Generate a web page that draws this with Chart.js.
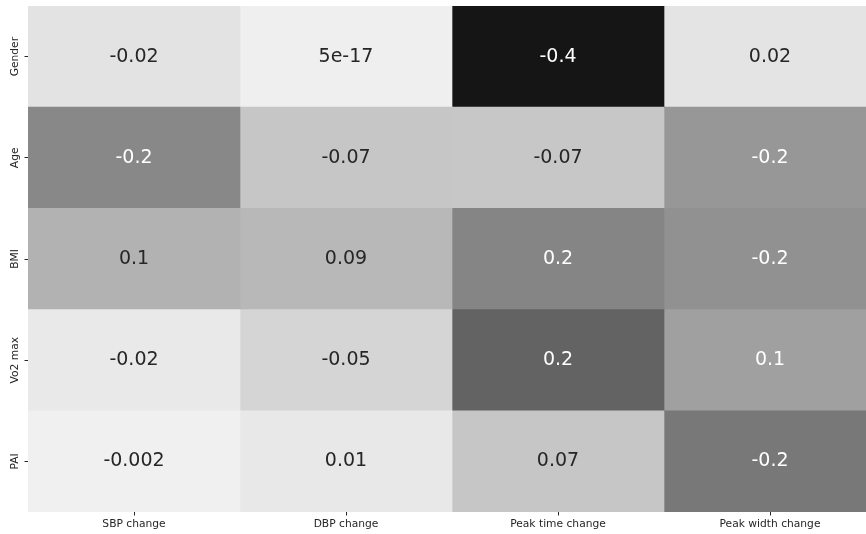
<!DOCTYPE html>
<html>
<head>
<meta charset="utf-8">
<script src="https://cdn.jsdelivr.net/npm/chart.js@4"></script>
<style>
  html, body { margin: 0; padding: 0; background: #fff; }
  #wrap { width: 866px; height: 534px; }
</style>
</head>
<body>
<div id="wrap"><canvas id="heat"></canvas></div>
<script>
const rowLabels = ['Gender', 'Age', 'BMI', 'Vo2 max', 'PAI'];
const colLabels = ['SBP change', 'DBP change', 'Peak time change', 'Peak width change'];

// correlation values, one array per row
const gender = [-0.02, 5e-17, -0.4, 0.02];
const age = [-0.2, -0.07, -0.07, -0.2];
const bmi = [0.1, 0.09, 0.2, -0.2];
const vo2max = [-0.02, -0.05, 0.2, 0.1];
const pai = [-0.002, 0.01, 0.07, -0.2];
const values = [gender, age, bmi, vo2max, pai];

// grey level of every cell (0 = black, 255 = white)
const cellGray = [
  [227, 239, 21, 228],
  [136, 198, 199, 151],
  [178, 184, 133, 145],
  [233, 213, 99, 160],
  [240, 232, 198, 120],
];

const gray = g => `rgb(${g},${g},${g})`;

const datasets = colLabels.map((name, c) => ({
  label: name,
  data: rowLabels.map(() => [c - 0.5, c + 0.5]),
  backgroundColor: cellGray.map(row => gray(row[c])),
  borderWidth: 0,
  barPercentage: 1,
  categoryPercentage: 1,
  grouped: false,
}));

// cell values plus the rotated row labels
const cellText = {
  id: 'cellText',
  afterDatasetsDraw(chart) {
    const { ctx, scales: { x, y } } = chart;
    ctx.save();
    ctx.font = '19px "DejaVu Sans"';
    ctx.textAlign = 'center';
    ctx.textBaseline = 'middle';
    values.forEach((row, r) => {
      row.forEach((v, c) => {
        ctx.fillStyle = cellGray[r][c] < 170 ? '#ffffff' : '#262626';
        ctx.fillText(v.toPrecision(1), x.getPixelForValue(c), y.getPixelForValue(r));
      });
    });
    ctx.font = '10.7px "DejaVu Sans"';
    ctx.fillStyle = '#262626';
    rowLabels.forEach((lab, r) => {
      ctx.save();
      ctx.translate(15.5, y.getPixelForValue(r));
      ctx.rotate(-Math.PI / 2);
      ctx.fillText(lab, 0, 0);
      ctx.restore();
    });
    ctx.restore();
  },
};

new Chart(document.getElementById('heat'), {
  type: 'bar',
  data: { labels: rowLabels, datasets },
  plugins: [cellText],
  options: {
    indexAxis: 'y',
    responsive: true,
    maintainAspectRatio: false,
    animation: false,
    layout: { padding: { top: 6, left: 0, right: 0, bottom: 0 } },
    plugins: { legend: { display: false }, tooltip: { enabled: false } },
    scales: {
      x: {
        type: 'linear',
        min: -0.5,
        max: -0.5 + 838 / 212,
        afterBuildTicks: s => { s.ticks = colLabels.map((_, i) => ({ value: i })); },
        afterFit: s => { s.height = 22; },
        border: { display: false },
        grid: { display: true, drawOnChartArea: false, drawTicks: true, tickLength: 3.5, tickColor: '#262626' },
        ticks: {
          autoSkip: false,
          maxRotation: 0,
          padding: 2,
          color: '#262626',
          font: { family: 'DejaVu Sans', size: 10.7 },
          callback: v => colLabels[v],
        },
      },
      y: {
        offset: true,
        afterFit: s => { s.width = 28; },
        border: { display: false },
        grid: { display: true, offset: false, drawOnChartArea: false, drawTicks: true, tickLength: 3.5, tickColor: '#262626' },
        ticks: { display: false },
      },
    },
  },
});
</script>
</body>
</html>
